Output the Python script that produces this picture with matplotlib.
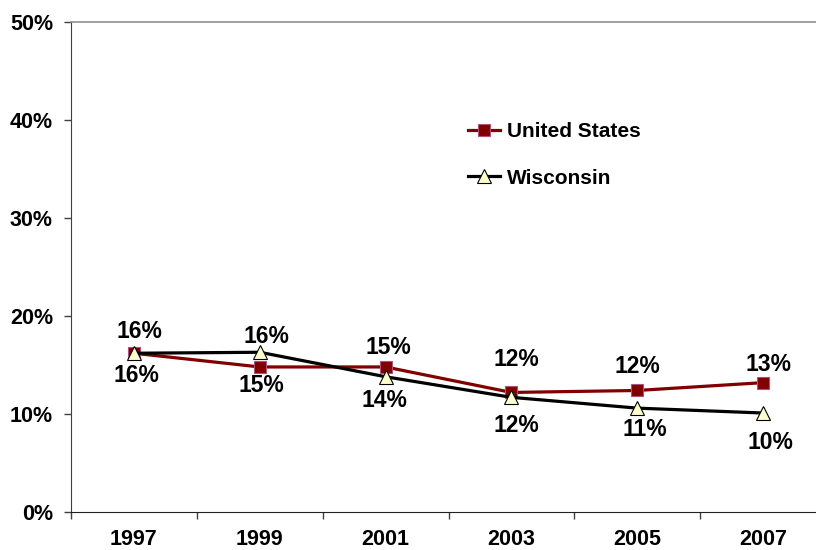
import matplotlib
matplotlib.use("Agg")
import matplotlib.pyplot as plt
from matplotlib.ticker import FixedLocator, FuncFormatter

years = ["1997", "1999", "2001", "2003", "2005", "2007"]
us_values = [16.2, 14.8, 14.8, 12.2, 12.4, 13.2]
wi_values = [16.2, 16.3, 13.8, 11.7, 10.6, 10.1]
series_names = ["United States", "Wisconsin"]
y_ticks = [0, 10, 20, 30, 40, 50]

# label offsets in pixels (dx, dy) relative to each point
us_offsets = [(6, 22), (2, -19), (3, 19), (5, 33), (0, 24), (5, 18)]
wi_offsets = [(3, -22), (7, 16), (-1, -24), (5, -28), (8, -21), (7, -29)]

plt.rcParams["font.family"] = ["Liberation Sans", "DejaVu Sans"]
plt.rcParams["font.weight"] = "bold"

fig = plt.figure(figsize=(8.16, 5.5), dpi=100)
ax = fig.add_axes([71 / 816, 38 / 550, 755 / 816, 490 / 550])

x = list(range(len(years)))
ax.plot(x, us_values, color="#800000", lw=2.3, marker="s", ms=8.8,
        mfc="#800000", mec="#B05080", mew=0.8, label=series_names[0], zorder=3)
ax.plot(x, wi_values, color="black", lw=2.3, marker="^", ms=9.5,
        mfc="#FFFFCC", mec="black", mew=0.8, label=series_names[1], zorder=4)

px = 72 / 100
for xi, v, (dx, dy) in zip(x, us_values, us_offsets):
    ax.annotate(f"{v:.0f}%", (xi, v), xytext=(dx * px, dy * px),
                textcoords="offset points", ha="center", va="center",
                fontsize=16.5, fontweight="bold", zorder=5)
for xi, v, (dx, dy) in zip(x, wi_values, wi_offsets):
    ax.annotate(f"{v:.0f}%", (xi, v), xytext=(dx * px, dy * px),
                textcoords="offset points", ha="center", va="center",
                fontsize=16.5, fontweight="bold", zorder=5)

ax.set_xlim(-0.5, len(years) - 0.5)
ax.set_ylim(0, 50)
ax.yaxis.set_major_locator(FixedLocator(y_ticks))
ax.yaxis.set_major_formatter(FuncFormatter(lambda v, _: f"{v:.0f}%"))
ax.set_xticks(x)
ax.set_xticklabels(years)
ax.set_xticks([i - 0.5 for i in range(len(years) + 1)], minor=True)

ax.tick_params(axis="y", direction="out", length=5, width=1, color="#404040",
               pad=8, labelsize=15.5)
ax.tick_params(axis="x", which="major", length=0, pad=12, labelsize=15.5)
ax.tick_params(axis="x", which="minor", direction="out", length=5, width=1,
               color="#404040")
for lbl in ax.get_xticklabels() + ax.get_yticklabels():
    lbl.set_fontweight("bold")

ax.spines["right"].set_visible(False)
ax.spines["top"].set_color("#909090")
ax.spines["top"].set_linewidth(1.2)
ax.spines["left"].set_color("#404040")
ax.spines["bottom"].set_color("#202020")

leg = ax.legend(loc="center left", bbox_to_anchor=(0.526, 0.729),
                frameon=False, fontsize=15, handlelength=1.55,
                handletextpad=0.3, labelspacing=1.33, borderpad=0,
                borderaxespad=0)
for t in leg.get_texts():
    t.set_fontweight("bold")

fig.savefig("out.png", dpi=100)
